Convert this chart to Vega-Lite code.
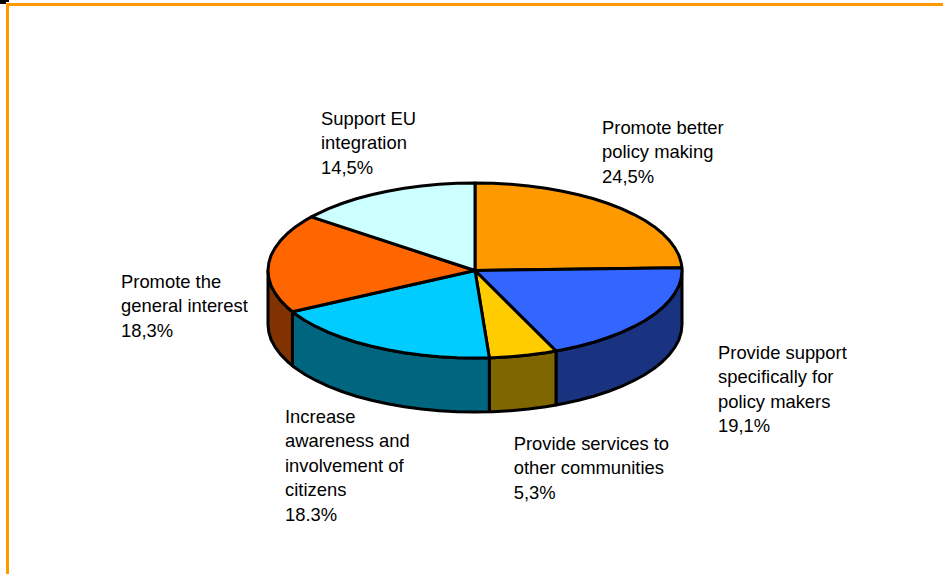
{
  "$schema": "https://vega.github.io/schema/vega-lite/v6.json",
  "width": 943,
  "height": 574,
  "padding": 0,
  "autosize": "none",
  "background": "white",
  "view": {"stroke": null},
  "config": {"style": {"cell": {"stroke": null}}},
  "projection": {"type": "identity", "scale": 1, "translate": [475, 270.5]},
  "datasets": {
    "frame": [
      {"type": "Feature", "properties": {"name": "frame"}, "geometry": {"type": "LineString", "coordinates": [[-467.5, 303.5], [-467.5, -266], [468, -266]]}}
    ],
    "corner": [
      {"type": "Feature", "properties": {"name": "corner"}, "geometry": {"type": "Polygon", "coordinates": [[[-475, -270.5], [-466, -270.5], [-466, -268.5], [-469, -268.5], [-469, -266.5], [-475, -266.5], [-475, -270.5]]]}}
    ],
    "sides": [
      {"type": "Feature", "properties": {"name": "Provide support side"}, "geometry": {"type": "Polygon", "coordinates": [[[207, 0], [206.2, 7.6], [203.9, 15.2], [199.9, 22.6], [194.5, 29.9], [187.6, 37], [179.3, 43.8], [169.6, 50.2], [158.6, 56.2], [146.4, 61.9], [133.1, 67], [118.7, 71.7], [103.5, 75.8], [87.5, 79.3], [81, 80.5], [81, 134.5], [87.5, 133.3], [103.5, 129.8], [118.7, 125.7], [133.1, 121], [146.4, 115.9], [158.6, 110.2], [169.6, 104.2], [179.3, 97.8], [187.6, 91], [194.5, 83.9], [199.9, 76.6], [203.9, 69.2], [206.2, 61.6], [207, 54], [207, 0]]]}},
      {"type": "Feature", "properties": {"name": "Provide services side"}, "geometry": {"type": "Polygon", "coordinates": [[[81, 80.5], [70.8, 82.2], [53.6, 84.5], [35.9, 86.2], [18, 87.2], [14.3, 87.3], [14.3, 141.3], [18, 141.2], [35.9, 140.2], [53.6, 138.5], [70.8, 136.2], [81, 134.5], [81, 80.5]]]}},
      {"type": "Feature", "properties": {"name": "Increase awareness side"}, "geometry": {"type": "Polygon", "coordinates": [[[14.3, 87.3], [0, 87.5], [-18, 87.2], [-35.9, 86.2], [-53.6, 84.5], [-70.8, 82.2], [-87.5, 79.3], [-103.5, 75.8], [-118.7, 71.7], [-133.1, 67], [-146.4, 61.9], [-158.6, 56.2], [-169.6, 50.2], [-179.3, 43.8], [-182.6, 41.2], [-182.6, 95.2], [-179.3, 97.8], [-169.6, 104.2], [-158.6, 110.2], [-146.4, 115.9], [-133.1, 121], [-118.7, 125.7], [-103.5, 129.8], [-87.5, 133.3], [-70.8, 136.2], [-53.6, 138.5], [-35.9, 140.2], [-18, 141.2], [0, 141.5], [14.3, 141.3], [14.3, 87.3]]]}},
      {"type": "Feature", "properties": {"name": "Promote general interest side"}, "geometry": {"type": "Polygon", "coordinates": [[[-182.6, 41.2], [-187.6, 37], [-194.5, 29.9], [-199.9, 22.6], [-203.9, 15.2], [-206.2, 7.6], [-207, 0], [-207, 54], [-206.2, 61.6], [-203.9, 69.2], [-199.9, 76.6], [-194.5, 83.9], [-187.6, 91], [-182.6, 95.2], [-182.6, 41.2]]]}}
    ],
    "tops": [
      {"type": "Feature", "properties": {"name": "Promote better policy making", "share": 24.5}, "geometry": {"type": "Polygon", "coordinates": [[[0, 0], [0, -87.5], [18, -87.2], [35.9, -86.2], [53.6, -84.5], [70.8, -82.2], [87.5, -79.3], [103.5, -75.8], [118.7, -71.7], [133.1, -67], [146.4, -61.9], [158.6, -56.2], [169.6, -50.2], [179.3, -43.8], [187.6, -37], [194.5, -29.9], [199.9, -22.6], [203.9, -15.2], [206.2, -7.6], [206.9, -2.7], [0, 0]]]}},
      {"type": "Feature", "properties": {"name": "Provide support specifically for policy makers", "share": 19.1}, "geometry": {"type": "Polygon", "coordinates": [[[0, 0], [206.9, -2.7], [207, 0], [206.2, 7.6], [203.9, 15.2], [199.9, 22.6], [194.5, 29.9], [187.6, 37], [179.3, 43.8], [169.6, 50.2], [158.6, 56.2], [146.4, 61.9], [133.1, 67], [118.7, 71.7], [103.5, 75.8], [87.5, 79.3], [81, 80.5], [0, 0]]]}},
      {"type": "Feature", "properties": {"name": "Provide services to other communities", "share": 5.3}, "geometry": {"type": "Polygon", "coordinates": [[[0, 0], [81, 80.5], [70.8, 82.2], [53.6, 84.5], [35.9, 86.2], [18, 87.2], [14.3, 87.3], [0, 0]]]}},
      {"type": "Feature", "properties": {"name": "Increase awareness and involvement of citizens", "share": 18.3}, "geometry": {"type": "Polygon", "coordinates": [[[0, 0], [14.3, 87.3], [0, 87.5], [-18, 87.2], [-35.9, 86.2], [-53.6, 84.5], [-70.8, 82.2], [-87.5, 79.3], [-103.5, 75.8], [-118.7, 71.7], [-133.1, 67], [-146.4, 61.9], [-158.6, 56.2], [-169.6, 50.2], [-179.3, 43.8], [-182.6, 41.2], [0, 0]]]}},
      {"type": "Feature", "properties": {"name": "Promote the general interest", "share": 18.3}, "geometry": {"type": "Polygon", "coordinates": [[[0, 0], [-182.6, 41.2], [-187.6, 37], [-194.5, 29.9], [-199.9, 22.6], [-203.9, 15.2], [-206.2, 7.6], [-207, 0], [-206.2, -7.6], [-203.9, -15.2], [-199.9, -22.6], [-194.5, -29.9], [-187.6, -37], [-179.3, -43.8], [-169.6, -50.2], [-163.6, -53.6], [0, 0]]]}},
      {"type": "Feature", "properties": {"name": "Support EU integration", "share": 14.5}, "geometry": {"type": "Polygon", "coordinates": [[[0, 0], [-163.6, -53.6], [-158.6, -56.2], [-146.4, -61.9], [-133.1, -67], [-118.7, -71.7], [-103.5, -75.8], [-87.5, -79.3], [-70.8, -82.2], [-53.6, -84.5], [-35.9, -86.2], [-18, -87.2], [0, -87.5], [0, 0]]]}}
    ],
    "labels": [
      {"lines": ["Promote better", "policy making", "24,5%"], "lon": 127, "lat": -136.5},
      {"lines": ["Provide support", "specifically for", "policy makers", "19,1%"], "lon": 243, "lat": 88.5},
      {"lines": ["Provide services to", "other communities", "5,3%"], "lon": 38.7, "lat": 179.5},
      {"lines": ["Increase", "awareness and", "involvement of", "citizens", "18.3%"], "lon": -190, "lat": 152.5},
      {"lines": ["Promote the", "general interest", "18,3%"], "lon": -354, "lat": 17.5},
      {"lines": ["Support EU", "integration", "14,5%"], "lon": -154, "lat": -145.5}
    ]
  },
  "layer": [
    {
      "data": {"name": "frame"},
      "mark": {"type": "geoshape", "filled": false, "stroke": "#FF9900", "strokeWidth": 3, "strokeJoin": "miter"}
    },
    {
      "data": {"name": "corner"},
      "mark": {"type": "geoshape", "fill": "#000000", "stroke": null}
    },
    {
      "data": {"name": "sides"},
      "mark": {"type": "geoshape", "stroke": "#000000", "strokeWidth": 3, "strokeJoin": "round"},
      "encoding": {
        "color": {
          "field": "properties.name",
          "type": "nominal",
          "legend": null,
          "scale": {
            "domain": ["Provide support side", "Provide services side", "Increase awareness side", "Promote general interest side"],
            "range": ["#1A3380", "#806600", "#006680", "#803300"]
          }
        }
      }
    },
    {
      "data": {"name": "tops"},
      "mark": {"type": "geoshape", "stroke": "#000000", "strokeWidth": 3, "strokeJoin": "round"},
      "encoding": {
        "fill": {
          "field": "properties.name",
          "type": "nominal",
          "legend": null,
          "scale": {
            "domain": ["Promote better policy making", "Provide support specifically for policy makers", "Provide services to other communities", "Increase awareness and involvement of citizens", "Promote the general interest", "Support EU integration"],
            "range": ["#FF9900", "#3366FF", "#FFCC00", "#00CCFF", "#FF6600", "#CCFFFF"]
          }
        }
      }
    },
    {
      "data": {"name": "labels"},
      "mark": {"type": "text", "font": "Liberation Sans", "fontSize": 18.4, "lineHeight": 24.4, "align": "left", "baseline": "alphabetic", "color": "#000000"},
      "encoding": {
        "longitude": {"field": "lon", "type": "quantitative"},
        "latitude": {"field": "lat", "type": "quantitative"},
        "text": {"field": "lines"}
      }
    }
  ]
}
